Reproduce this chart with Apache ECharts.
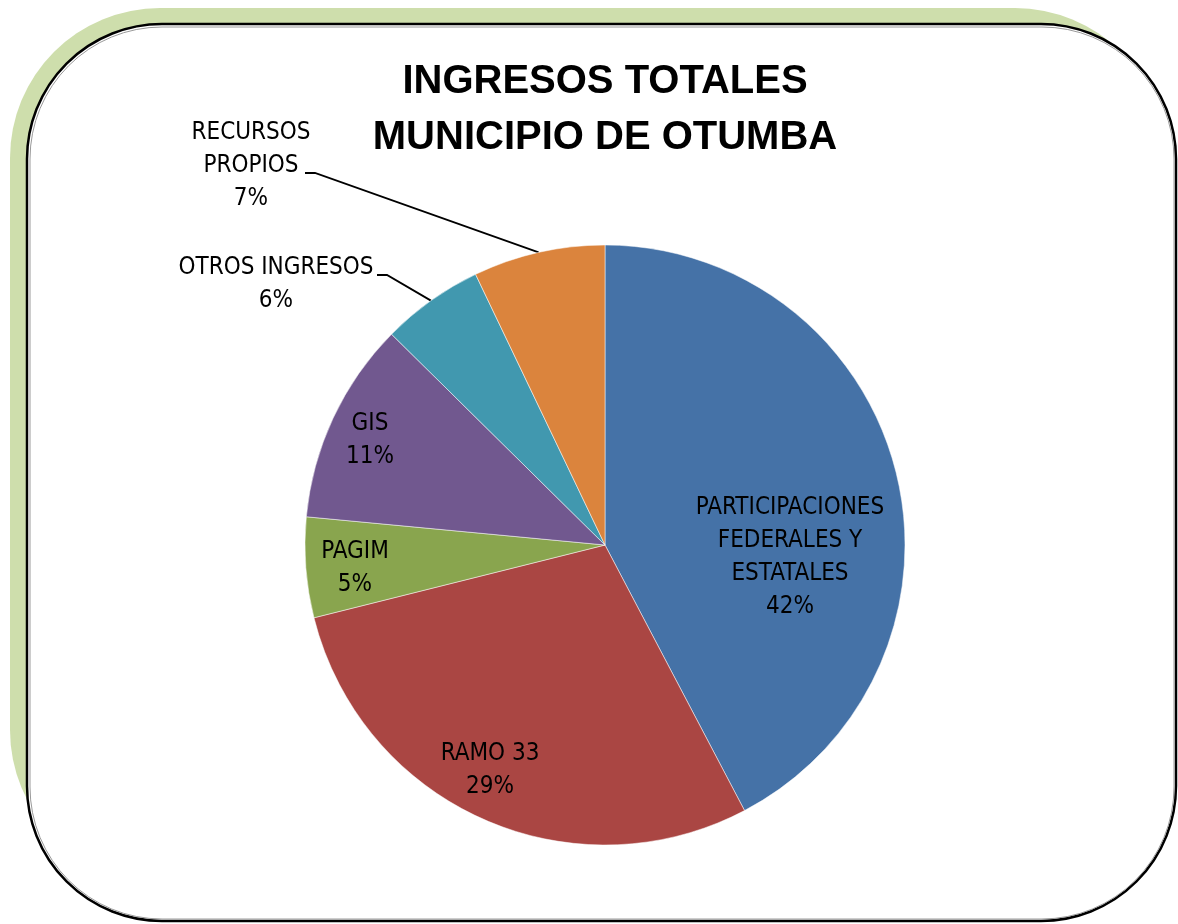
<!DOCTYPE html>
<html>
<head>
<meta charset="utf-8">
<title>Ingresos totales - Otumba</title>
<script src="https://cdn.jsdelivr.net/npm/echarts@6/dist/echarts.min.js"></script>
<style>
  html, body { margin: 0; padding: 0; background: #fff; }
  #main { width: 1178px; height: 924px; }
</style>
</head>
<body>
<div id="main"></div>
<script>
// datos (porcentaje del ingreso total)
var categories = [
    'PARTICIPACIONES\nFEDERALES Y\nESTATALES',
    'RAMO 33',
    'PAGIM',
    'GIS',
    'OTROS INGRESOS',
    'RECURSOS\nPROPIOS'
];
var values = [42.3, 28.8, 5.4, 10.9, 5.5, 7.1];
var colors = ['#4572A7', '#AA4643', '#89A54E', '#71588F', '#4198AF', '#DB843D'];

// posicion de las etiquetas (centro del bloque de texto)
var labelPos = [
    [790, 557], [490, 770], [355, 568], [370, 440], [276, 284], [251, 166]
];
// etiquetas fuera del pastel: donde arranca la linea guia
var lineStart = [null, null, null, null, [377, 275], [305, 173]];

var labelFont = '"Liberation Sans Narrow", "DejaVu Sans Condensed", "Liberation Sans", sans-serif';

function initChart() {
    var chart = echarts.init(document.getElementById('main'));
    var data = [];
    for (var i = 0; i < categories.length; i++) {
        var outside = lineStart[i] !== null;
        data.push({
            name: categories[i],
            value: values[i],
            itemStyle: {color: colors[i]},
            label: {position: outside ? 'outside' : 'inside'},
            labelLine: {show: outside}
        });
    }

    var option = {
        animation: false,
        backgroundColor: '#fff',
        graphic: [
            {
                type: 'rect',
                z: -3,
                shape: {x: 10, y: 8, width: 1155, height: 872, r: 150},
                style: {fill: '#CEDEAC'}
            },
            {
                type: 'rect',
                z: -2,
                shape: {x: 27, y: 24, width: 1149, height: 897, r: 135},
                style: {fill: '#fff', stroke: '#000', lineWidth: 2.5}
            },
            {
                type: 'rect',
                z: -1,
                shape: {x: 30, y: 27, width: 1144, height: 892, r: 132},
                style: {fill: null, stroke: '#9a9a9a', lineWidth: 1}
            },
            {
                type: 'text',
                z: 100,
                x: 605,
                y: 54,
                style: {
                    text: 'INGRESOS TOTALES\nMUNICIPIO DE OTUMBA',
                    fill: '#000',
                    font: 'bold 40px "Liberation Sans", Arial, sans-serif',
                    lineHeight: 56,
                    align: 'center',
                    verticalAlign: 'top'
                }
            }
        ],
        series: [
            {
                type: 'pie',
                center: [605, 545],
                radius: 300,
                startAngle: 90,
                clockwise: true,
                percentPrecision: 0,
                data: data,
                itemStyle: {borderColor: '#fff', borderWidth: 0.5},
                label: {
                    show: true,
                    formatter: '{b}\n{d}%',
                    color: '#000',
                    fontFamily: labelFont,
                    fontSize: 24,
                    lineHeight: 33,
                    align: 'center'
                },
                labelLine: {
                    lineStyle: {color: '#000', width: 1.8}
                },
                labelLayout: function (params) {
                    var i = params.dataIndex;
                    var res = {
                        x: labelPos[i][0],
                        y: labelPos[i][1],
                        align: 'center',
                        verticalAlign: 'middle'
                    };
                    if (lineStart[i] && params.labelLinePoints) {
                        var edge = params.labelLinePoints[0];
                        res.labelLinePoints = [
                            edge,
                            [lineStart[i][0] + 10, lineStart[i][1]],
                            lineStart[i]
                        ];
                    }
                    return res;
                },
                emphasis: {disabled: true}
            }
        ]
    };
    chart.setOption(option);
}

initChart();
</script>
</body>
</html>
